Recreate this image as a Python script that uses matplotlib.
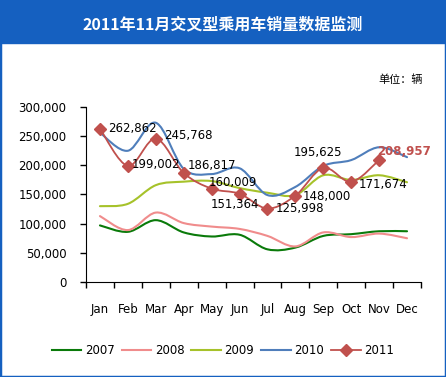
import matplotlib
matplotlib.use("Agg")
import matplotlib.pyplot as plt
from matplotlib.path import Path
from matplotlib.patches import PathPatch, Rectangle
from matplotlib.lines import Line2D
import numpy as np

plt.rcParams['font.family'] = ['DejaVu Sans', 'Noto Sans CJK SC']

months = ["Jan", "Feb", "Mar", "Apr", "May", "Jun", "Jul", "Aug", "Sep", "Oct", "Nov", "Dec"]
s2007 = [97000, 86000, 106000, 85000, 78000, 81000, 56000, 59000, 79000, 82000, 87000, 87000]
s2008 = [113000, 89000, 119000, 101000, 95000, 91000, 79000, 61000, 85000, 77000, 83000, 75000]
s2009 = [130000, 134000, 166000, 172000, 173000, 161000, 153000, 149000, 183000, 175000, 183000, 171000]
s2010 = [256000, 225000, 273000, 194000, 185000, 195000, 149000, 163000, 199000, 209000, 231000, 214000]
s2011 = [262862, 199002, 245768, 186817, 160009, 151364, 125998, 148000, 195625, 171674, 208957]
title = "2011年11月交叉型乘用车销量数据监测"
unit = "单位：辆"
yticks = [0, 50000, 100000, 150000, 200000, 250000, 300000]

series = [("2007", s2007, "#0A7A0A"), ("2008", s2008, "#F08C8C"),
          ("2009", s2009, "#A6C22A"), ("2010", s2010, "#4F7EBB"),
          ("2011", s2011, "#C0504D")]

W, H = 446, 377
fig = plt.figure(figsize=(W / 100, H / 100), dpi=100)
fig.patch.set_facecolor("white")

# frame and title bar
blue = "#1560C0"
fig.patches.append(Rectangle((0, 0), 1, 1, transform=fig.transFigure, fill=False,
                             edgecolor=blue, linewidth=2.5, zorder=0))
fig.patches.append(Rectangle((0, 1 - 43 / H), 1, 43 / H, transform=fig.transFigure,
                             facecolor=blue, edgecolor=blue, zorder=1))
fig.text(0.5, 1 - 24 / H, title, color="white", fontsize=11.5, fontweight="bold",
         ha="center", va="center", family=["Noto Sans CJK SC", "DejaVu Sans"])
fig.text(423 / W, 1 - 80 / H, unit, fontsize=8, ha="right", va="center",
         family=["Noto Sans CJK SC", "DejaVu Sans"])

ax = fig.add_axes([86 / W, 1 - 282 / H, (421 - 86) / W, (282 - 107) / H])
ax.set_xlim(0.5, 12.5)
ax.set_ylim(0, 300000)
for sp in ["top", "right"]:
    ax.spines[sp].set_visible(False)
ax.spines["left"].set_color("black")
ax.spines["bottom"].set_color("black")


def smooth_path(xs, ys):
    pts = np.column_stack([xs, ys]).astype(float)
    n = len(pts)
    verts = [pts[0]]
    codes = [Path.MOVETO]
    for i in range(n - 1):
        p0 = pts[i - 1] if i > 0 else pts[i]
        p1 = pts[i]
        p2 = pts[i + 1]
        p3 = pts[i + 2] if i + 2 < n else pts[i + 1]
        c1 = p1 + (p2 - p0) / 6.0
        c2 = p2 - (p3 - p1) / 6.0
        verts += [c1, c2, p2]
        codes += [Path.CURVE4] * 3
    return Path(verts, codes)


handles = []
for name, vals, col in series:
    xs = np.arange(1, len(vals) + 1)
    lw = 1.3 if name == "2011" else 1.5
    ax.add_patch(PathPatch(smooth_path(xs, vals), fill=False, edgecolor=col,
                           linewidth=lw, capstyle="round", joinstyle="round"))
    if name == "2011":
        ax.plot(xs, vals, linestyle="none", marker="D", markersize=6.5, color=col)
        handles.append(Line2D([], [], color=col, lw=lw, marker="D", markersize=6.5))
    else:
        handles.append(Line2D([], [], color=col, lw=lw))

# data labels for 2011
offsets = [(8, 0, "left", "center"), (4, 1, "left", "center"), (8, 3, "left", "center"),
           (4, 8, "left", "center"), (-3, 6, "left", "center"), (-5, -11, "center", "center"),
           (8, 0, "left", "center"), (7, -1, "left", "center"), (-5, 15, "center", "center"),
           (7, -3, "left", "center"), (-2, 9, "left", "center")]
for i, v in enumerate(s2011):
    dx, dy, ha, va = offsets[i]
    last = i == len(s2011) - 1
    ax.annotate(f"{v:,}", (i + 1, v), xytext=(dx * 0.72, dy * 0.72), textcoords="offset points",
                ha=ha, va=va, fontsize=8.5,
                color="#C0504D" if last else "black",
                fontweight="bold" if last else "normal")

ax.set_yticks(yticks)
ax.set_yticklabels([f"{t:,}" for t in yticks], fontsize=8.5)
ax.tick_params(axis="y", direction="out", length=4, pad=10, width=1)
ax.set_xticks(np.arange(0.5, 13, 1))
ax.set_xticklabels([""] * 13)
ax.tick_params(axis="x", which="major", direction="out", length=4, width=1)
ax.set_xticks(np.arange(1, 13), minor=True)
ax.set_xticklabels(months, minor=True, fontsize=8.5)
ax.tick_params(axis="x", which="minor", length=0, pad=15)

fig.legend(handles, [s[0] for s in series], loc="center", bbox_to_anchor=(223 / W, 1 - 351 / H),
           ncol=5, frameon=False, fontsize=8.5, handlelength=2.5, handletextpad=0.3,
           columnspacing=0.6)

fig.savefig("out.png", dpi=100)
